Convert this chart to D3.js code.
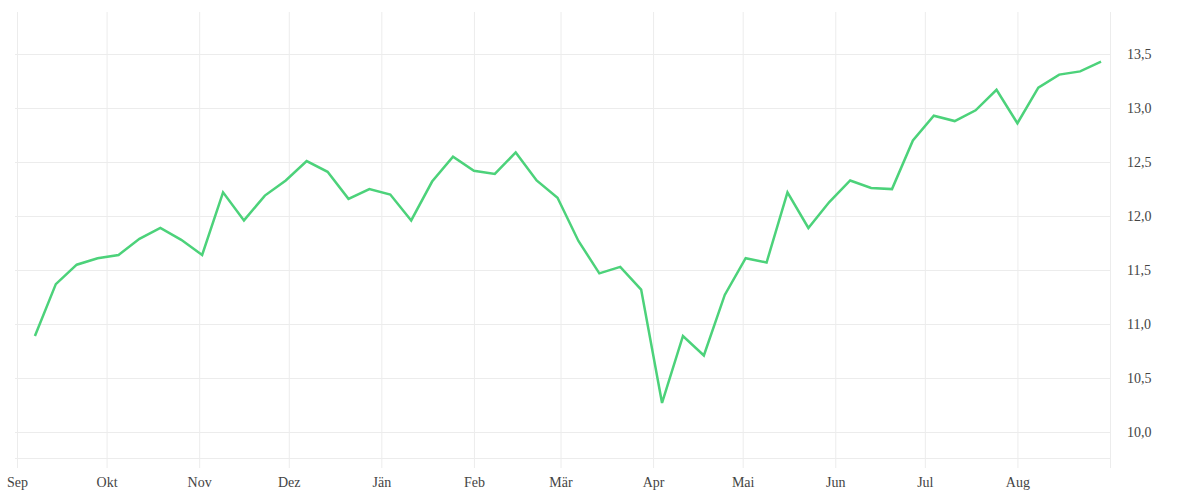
<!DOCTYPE html>
<html>
<head>
<meta charset="utf-8">
<script src="https://cdn.jsdelivr.net/npm/d3@7"></script>
<style>
    html, body { margin: 0; padding: 0; background: #fff; }
    svg text { font-family: "Liberation Serif", "DejaVu Serif", serif; font-size: 14px; fill: #444; }
</style>
</head>
<body>
<div id="chart"></div>
<script>
// weekly closing values, Sep 2019 - Aug 2020
var weeks = [
    "2019-09-07", "2019-09-14", "2019-09-21", "2019-09-28",
    "2019-10-05", "2019-10-12", "2019-10-19", "2019-10-26",
    "2019-11-02", "2019-11-09", "2019-11-16", "2019-11-23", "2019-11-30",
    "2019-12-07", "2019-12-14", "2019-12-21", "2019-12-28",
    "2020-01-04", "2020-01-11", "2020-01-18", "2020-01-25",
    "2020-02-01", "2020-02-08", "2020-02-15", "2020-02-22", "2020-02-29",
    "2020-03-07", "2020-03-14", "2020-03-21", "2020-03-28",
    "2020-04-04", "2020-04-11", "2020-04-18", "2020-04-25",
    "2020-05-02", "2020-05-09", "2020-05-16", "2020-05-23", "2020-05-30",
    "2020-06-06", "2020-06-13", "2020-06-20", "2020-06-27",
    "2020-07-04", "2020-07-11", "2020-07-18", "2020-07-25",
    "2020-08-01", "2020-08-08", "2020-08-15", "2020-08-22", "2020-08-29"
];
var values = [
    10.89, 11.37, 11.55, 11.61, 11.64, 11.79, 11.89, 11.78, 11.64, 12.22, 11.96, 12.19, 12.33, 12.51,
    12.41, 12.16, 12.25, 12.20, 11.96, 12.32, 12.55, 12.42, 12.39, 12.59, 12.33, 12.17, 11.77, 11.47,
    11.53, 11.32, 10.27, 10.89, 10.71, 11.27, 11.61, 11.57, 12.22, 11.89, 12.13,
    12.33, 12.26, 12.25, 12.70, 12.93, 12.88, 12.98, 13.17, 12.86, 13.19, 13.31, 13.34, 13.43
];
var monthLabels = ["Sep", "Okt", "Nov", "Dez", "Jän", "Feb", "Mär", "Apr", "Mai", "Jun", "Jul", "Aug", ""];
var yTicks = [10.0, 10.5, 11.0, 11.5, 12.0, 12.5, 13.0, 13.5];
var yDomain = [9.76, 13.89];

var width = 1200, height = 500,
    plotLeft = 17, plotRight = 1110, plotTop = 12, plotBottom = 458;

var parse = d3.timeParse("%Y-%m-%d");
var data = weeks.map(function(w, i) { return { date: parse(w), value: values[i] }; });

var x = d3.scaleTime()
    .domain(d3.extent(data, function(d) { return d.date; }))
    .range([plotLeft, plotRight])
    .nice(d3.timeMonth);
var y = d3.scaleLinear().domain(yDomain).range([plotBottom, plotTop]);

var de = d3.formatLocale({ decimal: ",", thousands: ".", grouping: [3], currency: ["", " €"] });
var fmt = de.format(".1f");

var svg = d3.select("#chart").append("svg")
    .attr("width", width).attr("height", height);

var monthTicks = x.ticks(d3.timeMonth.every(1));

// vertical grid + labels (bottom axis)
var xAxis = d3.axisBottom(x)
    .tickValues(monthTicks)
    .tickSize(-(plotBottom - plotTop) - 10)
    .tickPadding(9)
    .tickFormat(function(d, i) { return monthLabels[i]; });
var gx = svg.append("g")
    .attr("transform", "translate(0," + (plotBottom + 10) + ")")
    .call(xAxis);
gx.select(".domain").remove();
gx.selectAll(".tick line").attr("stroke", "#ececec");

// horizontal grid
svg.append("g").selectAll("line")
    .data(yTicks.concat([yDomain[0]]))
    .join("line")
    .attr("x1", plotLeft - 2).attr("x2", plotRight)
    .attr("y1", function(d) { return Math.round(y(d)) + 0.5; })
    .attr("y2", function(d) { return Math.round(y(d)) + 0.5; })
    .attr("stroke", "#ececec");

// value labels on the right
var gy = svg.append("g")
    .attr("transform", "translate(" + plotRight + ",0)")
    .call(d3.axisRight(y).tickValues(yTicks).tickSize(0).tickPadding(17).tickFormat(fmt));
gy.select(".domain").remove();

// the series
svg.append("path")
    .datum(data)
    .attr("fill", "none")
    .attr("stroke", "#4cd27a")
    .attr("stroke-width", 2.5)
    .attr("d", d3.line().x(function(d) { return x(d.date); }).y(function(d) { return y(d.value); }));
</script>
</body>
</html>
